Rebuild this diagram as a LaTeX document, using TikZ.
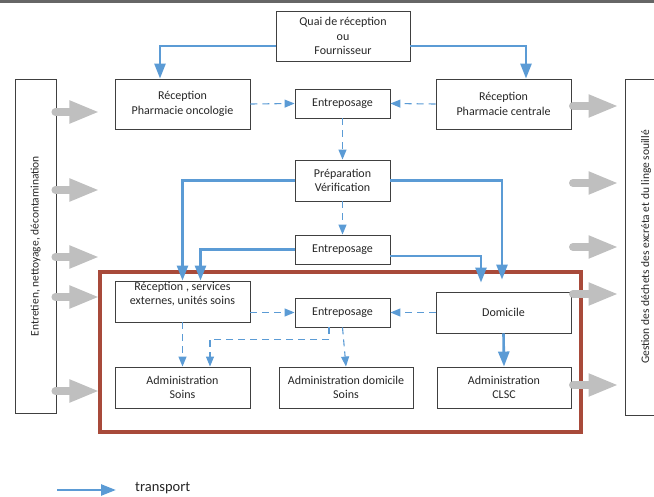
\documentclass[tikz,border=0pt]{standalone}
\usepackage{fontspec}
\setmainfont{Carlito}
\usetikzlibrary{arrows.meta}
\definecolor{bleu}{HTML}{5B9BD5}
\definecolor{rouge}{HTML}{A84A3A}
\definecolor{gris}{HTML}{BFBFBF}
\definecolor{trait}{HTML}{404040}
\definecolor{texte}{HTML}{262626}
\tikzset{
  boite/.style={draw=trait, line width=0.9pt, text=texte, align=center, inner sep=2pt,
    font=\fontsize{12}{14.5}\selectfont},
  transp/.style={draw=bleu, line width=2.6pt, -{Triangle[length=15pt,width=11pt]}},
  pointille/.style={draw=bleu, line width=1.1pt, dash pattern=on 7pt off 5pt,
    -{Triangle[length=10pt,width=8pt]}},
  flechegrise/.style={draw=gris, line width=8pt, line cap=round,
    -{Triangle[length=30pt,width=21pt]}},
}
\newcommand{\boite}[5]{\node[boite, minimum width=#3, minimum height=#4] (#1) at (#2) {#5};}

\begin{document}
\begin{tikzpicture}[x=1pt,y=-1pt]
\useasboundingbox (0,0) rectangle (654,497);
\draw[line width=3pt, color=black!60] (0,2) -- (654,2);
% side boxes
\node[boite, minimum width=41pt, minimum height=334pt] (lbox) at (35.5,246) {};
\node[rotate=90, text=texte, font=\fontsize{11.5}{14}\selectfont] (ltxt) at (lbox.center) {Entretien, nettoyage, décontamination};
\node[boite, minimum width=42pt, minimum height=336pt] (rbox) at (646,247) {};
\node[rotate=90, text=texte, font=\fontsize{11.5}{14}\selectfont] (rtxt) at (rbox.center) {Gestion des déchets des excréta et du linge souillé};
% row 1 of boxes
\boite{quai}{343,36}{134pt}{50pt}{Quai de réception\\ou\\Fournisseur}
\boite{onco}{182.5,104}{135pt}{50pt}{Réception\\Pharmacie oncologie}
\boite{ent1}{342.5,103.5}{95pt}{29pt}{Entreposage}
\boite{centrale}{503.5,104}{135pt}{50pt}{Réception\\Pharmacie centrale}
% row 2 of boxes
\boite{prep}{342.5,180.5}{95pt}{41pt}{Préparation\\Vérification}
\boite{ent2}{342.5,249.5}{95pt}{29pt}{Entreposage}
% boxes in the frame
\draw[rouge, line width=3.2pt] (100,272) rectangle (581,432);
\boite{serv}{182.5,301.5}{135pt}{41pt}{}
\node[text=texte, align=center, anchor=north, inner sep=0pt, font=\fontsize{12}{14.5}\selectfont] (servtxt) at ([yshift=-1]serv.north) {Réception , services\\externes, unités soins};
\boite{ent3}{342.5,312.5}{95pt}{29pt}{Entreposage}
\boite{domicile}{503.5,312.5}{135pt}{41pt}{Domicile}
\boite{adsoins}{182.5,387.5}{135pt}{41pt}{Administration\\Soins}
\boite{addom}{346,387.5}{134pt}{41pt}{Administration domicile\\Soins}
\boite{clsc}{504,387.5}{134pt}{41pt}{Administration\\CLSC}
% transport
\draw[transp] ([yshift=-10]quai.west) -| ([xshift=-22.5]onco.north);
\draw[transp] ([yshift=-10]quai.east) -| ([xshift=22.5]centrale.north);
\draw[transp] (prep.west) -| (serv.north);
\draw[transp] (ent2.west) -| ([xshift=18]serv.north);
\coordinate (domA) at ([xshift=-1.5,yshift=12]domicile.north);
\coordinate (domB) at ([xshift=-22.5,yshift=9]domicile.north);
\draw[transp] (prep.east) -| (domA);
\draw[transp] ([yshift=-6.5]ent2.east) -| (domB);
\draw[transp] (domicile.south) -- (clsc.north);
% dashed links
\draw[pointille] (onco.east) -- (ent1.west);
\draw[pointille] (centrale.west) -- (ent1.east);
\draw[pointille] (ent1.south) -- (prep.north);
\draw[pointille] (prep.south) -- (ent2.north);
\draw[pointille] (ent3.west -| serv.east) -- (ent3.west);
\draw[pointille] (domicile.west) -- (ent3.east);
\draw[pointille] (serv.south) -- (adsoins.north);
\draw[pointille] ([xshift=-13.5]ent3.south) -- ++(0,12) -| ([xshift=27.5]adsoins.north);
\draw[pointille] (ent3.south) -- (addom.north);
% grey arrows
\foreach \y in {112,190,257,297,391}
  \draw[flechegrise] ([xshift=-1]lbox.east |- 0,\y) -- ++(44,0);
\foreach \y in {106,183,247,294,385}
  \draw[flechegrise] (573,\y) -- ([xshift=-6]rbox.west |- 0,\y);
% legend
\coordinate (legA) at (57,490);
\node[anchor=west, text=texte, inner sep=0pt, font=\fontsize{14.5}{16}\selectfont] (legende) at (135,488) {transport};
\draw[transp] (legA) -- ([xshift=-19]legende.west |- legA);
\end{tikzpicture}
\end{document}
